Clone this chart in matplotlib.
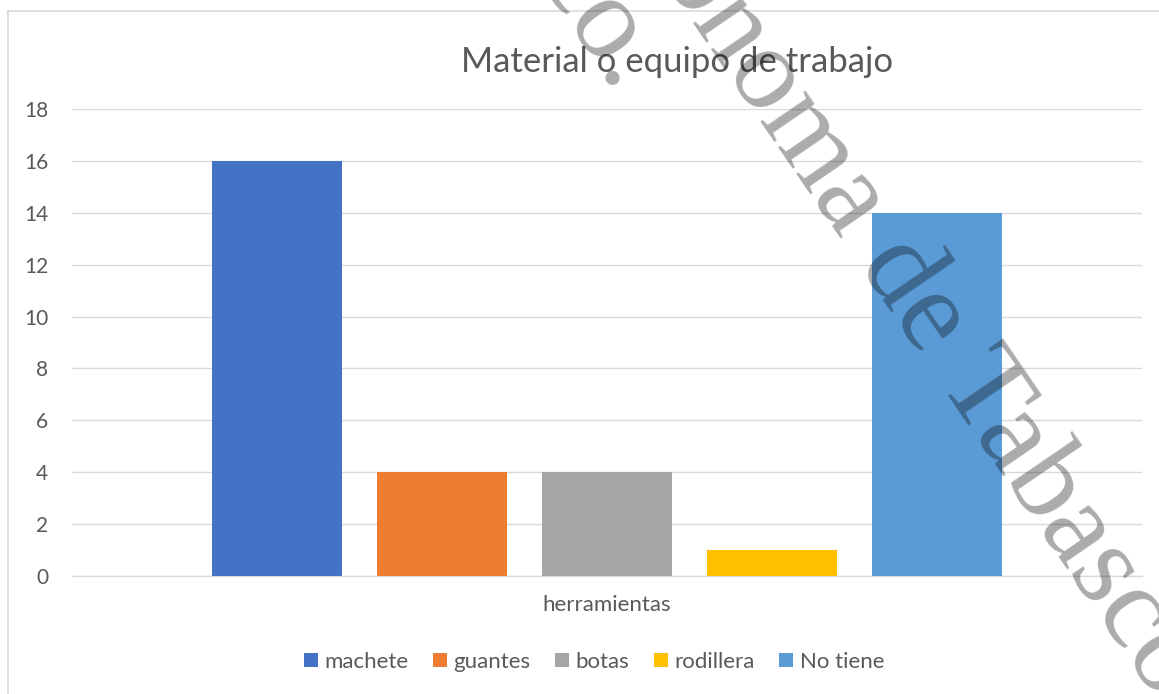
import matplotlib
matplotlib.use("Agg")
import matplotlib.pyplot as plt
from matplotlib.lines import Line2D

categoria = "herramientas"
series = ["machete", "guantes", "botas", "rodillera", "No tiene"]
valores = [16, 4, 4, 1, 14]
colores = ["#4472C4", "#ED7D31", "#A5A5A5", "#FFC000", "#5B9BD5"]
yticks = [0, 2, 4, 6, 8, 10, 12, 14, 16, 18]

plt.rcParams['font.family'] = ['Lato', 'DejaVu Sans']
W, H = 1159, 694
fig = plt.figure(figsize=(W / 100, H / 100), dpi=100)
fig.set_facecolor("#ffffff")

ax = fig.add_axes([72 / W, 1 - 576 / H, (1142 - 72) / W, (576 - 109) / H])

step = 0.1543
width = 0.122
for i, (name, v, c) in enumerate(zip(series, valores, colores)):
    ax.bar((i - 2) * step, v, width=width, color=c, label=name, zorder=3)

ax.set_xlim(-0.5, 0.5)
ax.set_ylim(0, 18)
ax.set_yticks(yticks)
ax.set_xticks([0])
ax.set_xticklabels([categoria])
ax.grid(axis='y', color="#d9d9d9", linewidth=1.0, zorder=0)
for s in ["top", "right", "left"]:
    ax.spines[s].set_visible(False)
ax.spines["bottom"].set_color("#d9d9d9")
ax.spines["bottom"].set_linewidth(1.0)
ax.tick_params(axis='y', length=0, pad=17, labelsize=15, labelcolor="#595959")
ax.tick_params(axis='x', length=0, pad=14, labelsize=16, labelcolor="#595959")

fig.text(677 / W, 1 - 62 / H, "Material o equipo de trabajo", ha='center', va='center',
         fontsize=25, color="#595959")

fig.legend(loc='center', bbox_to_anchor=(594 / W, 1 - 662 / H), ncol=5, frameon=False,
           fontsize=16, labelcolor="#595959", handlelength=0.63, handleheight=0.63,
           handletextpad=0.3, columnspacing=1.1)

# chart frame (top and left edges visible)
fig.add_artist(Line2D([8 / W, 1.0], [1 - 10.5 / H, 1 - 10.5 / H], color="#d9d9d9", linewidth=1.2))
fig.add_artist(Line2D([8 / W, 8 / W], [0, 1 - 10.5 / H], color="#d9d9d9", linewidth=1.2))

# watermark
wm = dict(rotation=-55.6, rotation_mode='anchor', fontsize=86, color="black", alpha=0.33,
          family=['Liberation Serif', 'DejaVu Serif'], zorder=10)
fig.text(880 / W, 1 - 246 / H, "Autónoma de Tabasco", ha='center', va='center', **wm)
fig.text(616 / W, 1 - 95 / H, "Tabasco.", ha='right', va='baseline', **wm)

fig.savefig("out.png", dpi=100)
